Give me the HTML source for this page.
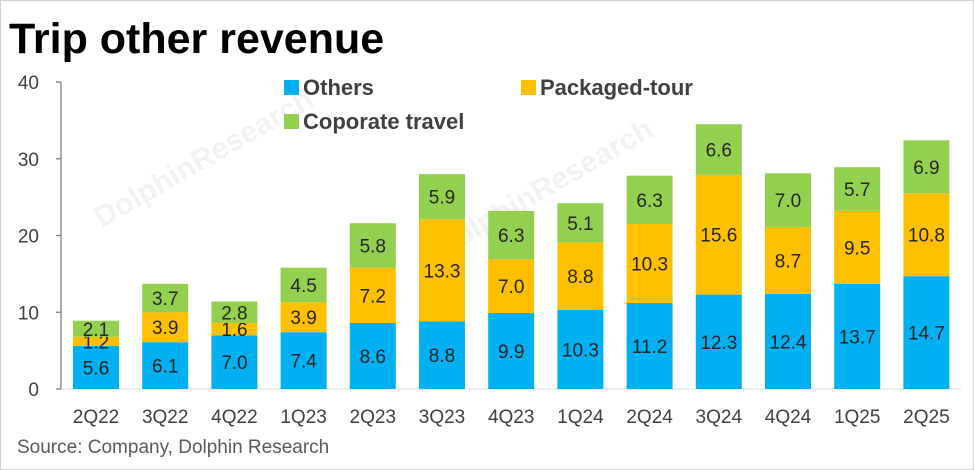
<!DOCTYPE html>
<html><head><meta charset="utf-8"><style>
body{margin:0;background:#fff;}
#wrap{position:relative;width:972px;height:468px;border:1px solid #d0d0d0;overflow:hidden;font-family:"Liberation Sans","DejaVu Sans",sans-serif;}
#title{position:absolute;left:8px;top:14px;font-size:43px;font-weight:bold;color:#000;margin:0;}
#src{position:absolute;left:16px;top:436px;font-size:19px;color:#595959;}
</style></head><body>
<div id="wrap">
<h1 id="title">Trip other revenue</h1>
<svg id="chart" width="972" height="468" style="position:absolute;left:0;top:0"></svg>
<div id="src">Source: Company, Dolphin Research</div>
</div>
<script>
const categories=["2Q22","3Q22","4Q22","1Q23","2Q23","3Q23","4Q23","1Q24","2Q24","3Q24","4Q24","1Q25","2Q25"];
const others=[5.6,6.1,7.0,7.4,8.6,8.8,9.9,10.3,11.2,12.3,12.4,13.7,14.7];
const packaged=[1.2,3.9,1.6,3.9,7.2,13.3,7.0,8.8,10.3,15.6,8.7,9.5,10.8];
const corporate=[2.1,3.7,2.8,4.5,5.8,5.9,6.3,5.1,6.3,6.6,7.0,5.7,6.9];
const yTicks=[0,10,20,30,40];
const NS="http://www.w3.org/2000/svg";
const svg=document.getElementById('chart');
const y0=388,pxPer=7.675,x0=60,step=69.2,bw=46;
const y=v=>y0-v*pxPer;
const xc=i=>x0+35+i*step;
function mk(t,a){const e=document.createElementNS(NS,t);for(const k in a)e.setAttribute(k,a[k]);svg.appendChild(e);return e;}
const wm=mk('text',{x:80,y:190,'font-size':30,fill:'#f2f2f2','font-weight':'bold',transform:'rotate(-30 160 170)'});
wm.textContent='DolphinResearch';


const wm2=mk('text',{x:420,y:220,'font-size':30,fill:'#f2f2f2','font-weight':'bold',transform:'rotate(-30 500 200)'});
wm2.textContent='DolphinResearch';


const ax=mk('line',{x1:x0,y1:y(40),x2:x0,y2:y0,stroke:'#7f7f7f','stroke-width':1.3});


yTicks.forEach(t=>{
 const l=mk('line',{x1:x0-5,y1:y(t),x2:x0,y2:y(t),stroke:'#7f7f7f','stroke-width':1.3});
 
 
 const tx=mk('text',{x:38,y:y(t)+7,'text-anchor':'end','font-size':19,fill:'#404040'});
 tx.textContent=t;
 
 
});
const bl=mk('line',{x1:x0,y1:y0,x2:960,y2:y0,stroke:'#d9d9d9','stroke-width':1});


const series=[[others,'#00B0F0','others'],[packaged,'#FFC000','packaged-tour'],[corporate,'#92D050','corporate-travel']];
categories.forEach((c,i)=>{
 let base=0;
 series.forEach(([arr,col,nm])=>{
  const v=arr[i];
  const r=mk('rect',{x:xc(i)-bw/2,y:y(base+v),width:bw,height:v*pxPer,fill:col});
  
  
  const t=mk('text',{x:xc(i),y:y(base+v/2)+7,'text-anchor':'middle','font-size':19,fill:'#262626'});
  t.textContent=v.toFixed(1);
  
  
  base+=v;
 });
 const lb=mk('text',{x:xc(i),y:422,'text-anchor':'middle','font-size':19,fill:'#404040'});
 lb.textContent=c;
 
 
});
const legend=[['Others','#00B0F0',283,87],['Packaged-tour','#FFC000',520,87],['Coporate travel','#92D050',283,121]];
legend.forEach(([n,col,lx,ly])=>{
 const s=mk('rect',{x:lx,y:ly-8,width:15,height:15,fill:col});
 
 
 const t=mk('text',{x:lx+19,y:ly+7,'font-size':22,'font-weight':'bold',fill:'#404040'});
 t.textContent=n;
 
 
});
</script>
</body></html>
